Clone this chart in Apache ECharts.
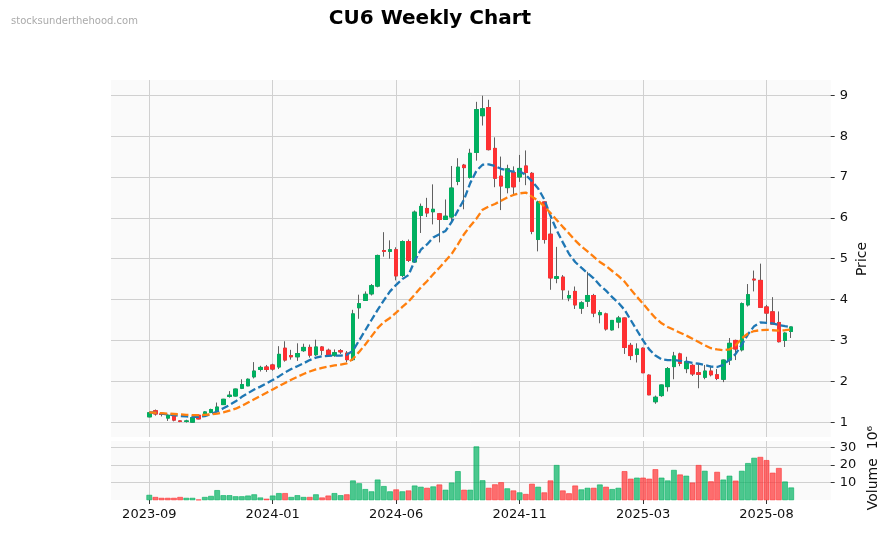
<!DOCTYPE html>
<html><head><meta charset="utf-8">
<script src="https://cdn.jsdelivr.net/npm/echarts@6/dist/echarts.min.js"></script>
<style>html,body{margin:0;padding:0;background:#fff}#c{width:891px;height:533px}</style>
</head><body><div id="c"></div>
<script>
// Weekly candles, index 0 = first week (Sep 2023)
const opens = [1.13,1.28,1.20,1.10,1.16,1.03,1.02,1.00,1.17,1.19,1.24,1.27,1.43,1.63,1.64,1.83,1.89,2.11,2.29,2.35,2.40,2.35,2.81,2.63,2.60,2.75,2.83,2.65,2.84,2.76,2.63,2.75,2.69,2.53,3.80,3.98,4.14,4.33,5.20,5.18,5.22,4.59,5.42,4.92,6.06,6.23,6.15,6.10,5.96,6.02,6.89,7.29,6.99,7.60,8.50,8.70,7.70,7.02,6.74,7.11,7.00,7.27,7.09,5.47,6.39,5.60,4.52,4.55,4.04,4.20,3.79,3.96,4.10,3.63,3.65,3.26,3.45,3.55,2.88,2.66,2.81,2.15,1.50,1.65,1.87,2.36,2.67,2.31,2.39,2.21,2.10,2.25,2.16,2.05,2.52,3.00,2.77,3.87,4.50,4.47,3.82,3.70,3.44,3.00,3.22];
const closes = [1.23,1.20,1.19,1.17,1.05,1.02,1.03,1.11,1.08,1.25,1.31,1.37,1.56,1.66,1.81,1.92,2.05,2.25,2.34,2.29,2.30,2.66,2.52,2.60,2.68,2.83,2.64,2.84,2.76,2.64,2.70,2.72,2.53,3.65,3.90,4.13,4.34,5.08,5.18,5.22,4.58,5.42,4.96,6.14,6.28,6.12,6.21,5.96,6.04,6.73,7.24,7.23,7.58,8.65,8.67,7.67,6.97,6.78,7.20,6.76,7.21,7.11,5.67,6.39,5.47,4.53,4.56,4.24,4.10,3.87,3.92,4.10,3.67,3.68,3.28,3.49,3.55,2.83,2.63,2.79,2.21,1.67,1.61,1.91,2.31,2.62,2.44,2.48,2.18,2.17,2.25,2.16,2.07,2.52,2.93,2.79,3.90,4.12,4.48,3.81,3.67,3.40,2.97,3.18,3.33];
const lows = [1.12,1.16,1.14,1.03,1.02,1.00,0.99,0.99,1.07,1.17,1.22,1.26,1.42,1.60,1.63,1.81,1.88,2.07,2.24,2.23,2.26,2.30,2.48,2.53,2.50,2.72,2.58,2.62,2.64,2.60,2.60,2.67,2.47,2.50,3.53,3.97,4.10,4.30,5.05,5.00,4.47,4.55,4.92,4.90,5.63,6.02,5.84,5.40,5.95,5.90,6.80,6.21,6.96,7.40,8.26,7.65,6.75,6.19,6.60,6.58,6.88,6.80,5.60,5.18,5.37,4.24,4.40,4.00,3.96,3.77,3.65,3.82,3.57,3.42,3.24,3.24,3.30,2.67,2.52,2.46,2.20,1.66,1.45,1.62,1.75,2.05,2.37,2.20,2.13,1.83,2.05,2.12,2.03,1.98,2.40,2.52,2.73,3.83,4.20,3.80,3.44,3.40,2.95,2.84,3.06];
const highs = [1.24,1.31,1.21,1.19,1.17,1.04,1.06,1.12,1.18,1.27,1.33,1.48,1.57,1.76,1.82,2.05,2.07,2.47,2.38,2.40,2.43,2.86,2.98,2.77,2.93,2.92,2.90,3.02,2.86,2.80,2.78,2.79,2.74,3.75,4.12,4.20,4.38,5.10,5.65,5.45,5.28,5.45,5.47,6.18,6.35,6.49,6.82,6.12,6.45,7.27,7.46,7.32,7.69,8.84,8.99,8.89,7.97,7.50,7.30,7.26,7.54,7.65,7.12,6.42,6.40,5.97,5.29,4.60,4.22,4.32,3.96,4.68,4.14,3.74,3.68,3.50,3.60,3.56,2.94,2.93,2.83,2.17,1.65,1.92,2.35,2.72,2.70,2.60,2.42,2.42,2.40,2.38,2.30,2.53,3.06,3.02,3.93,4.38,4.71,4.88,3.87,4.06,3.71,3.20,3.34];
// Volume in millions
const volumes = [3.0,1.8,1.3,1.3,1.3,1.8,1.3,1.3,0.3,1.8,2.4,5.7,2.8,2.8,2.2,2.2,2.6,3.3,1.5,0.8,2.6,4.0,4.0,1.8,2.8,1.8,1.8,3.3,1.5,2.6,4.0,2.8,3.3,11.2,9.6,6.3,5.0,11.7,8.0,5.0,6.1,5.0,5.5,8.3,7.6,7.0,7.8,8.9,5.9,10.0,16.5,5.9,5.9,30.6,11.3,7.0,9.0,10.2,6.7,5.5,4.4,3.5,9.3,7.6,4.4,11.2,20.0,5.5,3.9,8.3,6.1,7.0,7.0,8.9,7.6,6.3,7.0,16.5,12.2,12.8,12.8,12.2,17.6,12.8,11.2,17.2,14.6,13.9,10.0,20.0,16.7,10.7,16.1,11.7,13.9,11.1,16.7,21.1,24.1,24.6,22.8,15.6,18.3,10.6,7.2];
// Moving averages
const maShort = [1.24,1.23,1.21,1.19,1.17,1.15,1.14,1.13,1.13,1.15,1.20,1.26,1.34,1.42,1.51,1.62,1.71,1.80,1.87,1.95,2.03,2.12,2.22,2.30,2.37,2.44,2.52,2.58,2.61,2.62,2.63,2.63,2.65,2.75,3.00,3.25,3.50,3.75,3.98,4.20,4.36,4.50,4.60,4.95,5.22,5.35,5.52,5.60,5.68,5.90,6.18,6.45,6.85,7.15,7.30,7.31,7.27,7.20,7.16,7.13,7.14,7.05,6.90,6.72,6.45,6.05,5.70,5.40,5.12,4.92,4.78,4.65,4.52,4.35,4.22,4.06,3.92,3.75,3.50,3.25,3.00,2.78,2.63,2.54,2.52,2.52,2.50,2.48,2.45,2.43,2.40,2.36,2.35,2.40,2.53,2.67,2.90,3.15,3.35,3.44,3.43,3.42,3.38,3.35,3.33];
const maLong = [1.24,1.23,1.22,1.21,1.20,1.19,1.18,1.17,1.17,1.18,1.19,1.21,1.24,1.28,1.33,1.40,1.48,1.56,1.64,1.72,1.80,1.88,1.96,2.04,2.11,2.18,2.24,2.29,2.33,2.36,2.39,2.41,2.44,2.55,2.72,2.90,3.10,3.30,3.45,3.55,3.68,3.82,3.95,4.12,4.30,4.45,4.62,4.78,4.95,5.12,5.35,5.60,5.80,5.98,6.20,6.28,6.34,6.42,6.50,6.56,6.60,6.62,6.52,6.42,6.28,6.12,5.95,5.78,5.62,5.45,5.30,5.18,5.05,4.92,4.82,4.70,4.58,4.44,4.25,4.07,3.90,3.72,3.55,3.42,3.33,3.26,3.19,3.12,3.04,2.96,2.88,2.81,2.78,2.76,2.78,2.88,3.05,3.17,3.23,3.25,3.26,3.25,3.24,3.25,3.27];
// X tick positions (week index) and labels
const tickPositions = [0,20,40,60,80,100];
const tickLabels = ['2023-09','2024-01','2024-06','2024-11','2025-03','2025-08'];
const priceTicks = [1,2,3,4,5,6,7,8,9];
const volumeTicks = [10,20,30];

const UP = '#00b060', DOWN = '#fe3032';
const FONT = 'DejaVu Sans';
const idx = closes.map((_, i) => i);
const candleData = idx.map(i => [i, opens[i], closes[i], lows[i], highs[i]]);
const bodyData = idx.map(i => [i, opens[i], closes[i], Math.min(opens[i], closes[i]), Math.max(opens[i], closes[i])]);
const volData = idx.map(i => {
  const up = i === 0 ? closes[i] >= opens[i] : closes[i] >= closes[i - 1];
  return {
    value: [i, volumes[i]],
    itemStyle: {
      color: up ? 'rgba(0,176,96,0.7)' : 'rgba(254,48,50,0.7)',
      borderColor: up ? UP : DOWN, borderWidth: 0.6
    }
  };
});
const labelMap = {};
tickPositions.forEach((p, k) => labelMap[p] = tickLabels[k]);

const XMIN = -6.2, XMAX = 110.4;
const gridLine = { show: true, lineStyle: { color: '#d0d0d0', width: 1 } };

const chart = echarts.init(document.getElementById('c'), null, { renderer: 'canvas' });
chart.setOption({
  animation: false,
  backgroundColor: '#ffffff',
  textStyle: { fontFamily: FONT },
  grid: [
    { left: 111, right: 60.3, top: 80, height: 357, show: true, backgroundColor: '#fafafa', borderWidth: 0 },
    { left: 111, right: 60.3, top: 441, height: 59, show: true, backgroundColor: '#fafafa', borderWidth: 0 }
  ],
  xAxis: [
    { type: 'value', gridIndex: 0, min: XMIN, max: XMAX, position: 'bottom',
      axisLine: { show: false, onZero: false }, axisLabel: { show: false },
      axisTick: { show: false, customValues: tickPositions },
      splitLine: gridLine },
    { type: 'value', gridIndex: 1, min: XMIN, max: XMAX, position: 'bottom',
      axisLine: { show: false, onZero: false },
      axisTick: { show: true, length: 4, lineStyle: { color: '#333' }, customValues: tickPositions },
      axisLabel: { show: true, customValues: tickPositions, margin: 8, fontSize: 13, color: '#111', fontFamily: FONT,
        formatter: v => labelMap[Math.round(v)] || '' },
      splitLine: gridLine }
  ],
  yAxis: [
    { type: 'value', gridIndex: 0, position: 'right', min: 0.637, max: 9.374, scale: true,
      axisLine: { show: false, onZero: false },
      axisTick: { show: true, length: 4, lineStyle: { color: '#333' }, customValues: priceTicks },
      axisLabel: { show: true, customValues: priceTicks, margin: 9, fontSize: 13, color: '#111', fontFamily: FONT },
      splitLine: gridLine },
    { type: 'value', gridIndex: 1, position: 'right', min: 0.09, max: 33.7, scale: true,
      axisLine: { show: false, onZero: false },
      axisTick: { show: true, length: 4, lineStyle: { color: '#333' }, customValues: volumeTicks },
      axisLabel: { show: true, customValues: volumeTicks, margin: 9, fontSize: 13, color: '#111', fontFamily: FONT },
      splitLine: gridLine }
  ],
  series: [
    { type: 'candlestick', name: 'wick', xAxisIndex: 0, yAxisIndex: 0, data: candleData,
      encode: { x: 0, y: [1, 2, 3, 4] }, barWidth: 4,
      itemStyle: { color: UP, color0: DOWN, borderColor: '#606060', borderColor0: '#606060', borderColorDoji: '#606060', borderWidth: 1 },
      emphasis: { disabled: true } },
    { type: 'candlestick', name: 'body', xAxisIndex: 0, yAxisIndex: 0, data: bodyData,
      encode: { x: 0, y: [1, 2, 3, 4] }, barWidth: 4,
      itemStyle: { color: UP, color0: DOWN, borderColor: UP, borderColor0: DOWN, borderColorDoji: DOWN, borderWidth: 1 },
      emphasis: { disabled: true } },
    { type: 'line', name: 'MA short', xAxisIndex: 0, yAxisIndex: 0, data: idx.map(i => [i, maShort[i]]),
      showSymbol: false, symbol: 'none', lineStyle: { color: '#1f77b4', width: 2.3, type: [7.4, 3.2] }, z: 5 },
    { type: 'line', name: 'MA long', xAxisIndex: 0, yAxisIndex: 0, data: idx.map(i => [i, maLong[i]]),
      showSymbol: false, symbol: 'none', lineStyle: { color: '#ff7f0e', width: 2.3, type: [7.4, 3.2] }, z: 6 },
    { type: 'bar', name: 'Volume', xAxisIndex: 1, yAxisIndex: 1, data: volData, barWidth: 5.6 }
  ],
  graphic: [
    { type: 'text', left: 11, top: 16, style: { text: 'stocksunderthehood.com', fontSize: 10, fill: '#aaaaaa', fontFamily: FONT } },
    { type: 'text', x: 430, y: 19, style: { text: 'CU6 Weekly Chart', fontSize: 20, fontWeight: 'bold', fill: '#000', fontFamily: FONT, textAlign: 'center', textVerticalAlign: 'middle' } },
    { type: 'text', x: 862, y: 259, rotation: Math.PI / 2, style: { text: 'Price', fontSize: 14, fill: '#111', fontFamily: FONT, textAlign: 'center', textVerticalAlign: 'middle' } },
    { type: 'text', x: 873, y: 468, rotation: Math.PI / 2, style: { text: 'Volume  10\u2076', fontSize: 14, fill: '#111', fontFamily: FONT, textAlign: 'center', textVerticalAlign: 'middle' } }
  ]
});
</script>
</body></html>
